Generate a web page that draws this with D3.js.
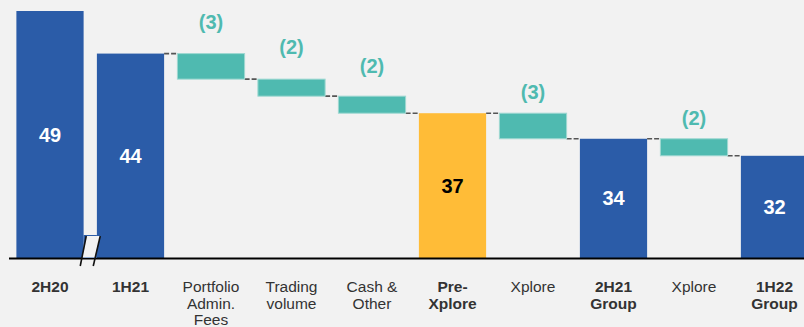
<!DOCTYPE html>
<html>
<head>
<meta charset="utf-8">
<script src="https://cdn.jsdelivr.net/npm/d3@7"></script>
<style>
  html, body { margin: 0; padding: 0; background: #f2f2f2; }
  svg { display: block; }
</style>
</head>
<body>
<svg id="chart" width="804" height="327"></svg>
<script>
// ---- data ----
const categories = ["2H20", "1H21", "Portfolio\nAdmin.\nFees", "Trading\nvolume", "Cash &\nOther", "Pre-\nXplore", "Xplore", "2H21\nGroup", "Xplore", "1H22\nGroup"];
const values = [49, 44, -3, -2, -2, 37, -3, 34, -2, 32];
const kinds = ["total", "total", "delta", "delta", "delta", "subtotal", "delta", "total", "delta", "total"];
const boldCategory = [true, true, false, false, false, true, false, true, false, true];
const valueLabels = ["49", "44", "(3)", "(2)", "(2)", "37", "(3)", "34", "(2)", "32"];
const yDomain = [20, 49];

// ---- styles ----
const W = 804, H = 327;
const colors = { total: "#2b5ca8", subtotal: "#ffbc37", delta: "#4fbab0", bg: "#f2f2f2" };
const deltaLift = { 2: 32, 3: 32, 4: 30, 6: 21, 8: 21 };
const FONT = "'Liberation Sans', Arial, Helvetica, sans-serif";

const svg = d3.select("#chart");
svg.append("rect").attr("width", W).attr("height", H).attr("fill", colors.bg);

const ids = categories.map((c, i) => i);
const x = d3.scaleBand().domain(ids).range([9.75, 814.75]).paddingInner(0.165).paddingOuter(0.0825);
const y = d3.scaleLinear().domain(yDomain).range([258, 11]);
const bw = x.bandwidth();

// compute bar extents
let level = 0;
const bars = values.map((v, i) => {
  let y0, y1;
  if (kinds[i] === "delta") {
    y0 = level; y1 = level + v; level = y1;
  } else {
    y0 = yDomain[0]; y1 = v; level = v;
  }
  return { i, kind: kinds[i], lo: Math.min(y0, y1), hi: Math.max(y0, y1), end: level };
});

// connectors
const conn = svg.append("g");
bars.forEach((b, i) => {
  if (i <= 1) return; // no connector across the break
  const prev = bars[i - 1];
  conn.append("line")
    .attr("x1", x(i - 1) + bw).attr("x2", x(i))
    .attr("y1", y(prev.end)).attr("y2", y(prev.end))
    .attr("stroke", "#555").attr("stroke-width", 1.6)
    .attr("stroke-dasharray", "5,2");
});

// bars
svg.append("g").selectAll("rect").data(bars).join("rect")
  .attr("x", d => x(d.i))
  .attr("width", bw)
  .attr("y", d => y(d.hi))
  .attr("height", d => y(d.lo) - y(d.hi))
  .attr("fill", d => colors[d.kind])
  .attr("stroke", d => d.kind === "delta" ? "#9fd8d2" : "none")
  .attr("stroke-width", 1);

// baseline axis
const axis = d3.axisBottom(x).tickSize(0).tickFormat("");
const ag = svg.append("g").attr("transform", `translate(0,${y(yDomain[0]) + 0.5})`).call(axis);
ag.select(".domain").attr("d", `M9,0H${W}`).attr("stroke", "#000").attr("stroke-width", 2);

// axis break mark between first two bars
(function () {
  const gx0 = x(0) + bw, gx1 = x(1), cx = (gx0 + gx1) / 2;
  const g = svg.append("g");
  g.append("rect").attr("x", gx0).attr("y", 235).attr("width", gx1 - gx0).attr("height", 258 - 235).attr("fill", colors.total);
  const l1 = [[cx - 4, 236], [cx - 10, 266]];
  const l2 = [[cx + 10, 236], [cx + 3, 266]];
  const at = (l, yy) => l[0][0] + (l[1][0] - l[0][0]) * (yy - l[0][1]) / (l[1][1] - l[0][1]);
  g.append("polygon")
    .attr("points", [[at(l1, 236), 236], [at(l2, 236), 236], [at(l2, 257.5), 257.5], [at(l1, 257.5), 257.5]].map(p => p.join(",")).join(" "))
    .attr("fill", colors.bg);
  [l1, l2].forEach(l => {
    g.append("line")
      .attr("x1", l[0][0]).attr("y1", l[0][1]).attr("x2", l[1][0]).attr("y2", l[1][1])
      .attr("stroke", "#111").attr("stroke-width", 1.6);
  });
})();

// value labels
svg.append("g").selectAll("text").data(bars).join("text")
  .attr("x", d => x(d.i) + bw / 2)
  .attr("y", d => d.kind === "delta" ? y(d.hi) - deltaLift[d.i] : (y(d.hi) + y(d.lo)) / 2)
  .attr("text-anchor", "middle")
  .attr("dominant-baseline", "central")
  .attr("font-family", FONT)
  .attr("font-weight", "bold")
  .attr("font-size", 20)
  .attr("fill", d => d.kind === "delta" ? "#4fbab0" : d.kind === "subtotal" ? "#000" : "#fff")
  .text(d => valueLabels[d.i]);

// category labels
const cg = svg.append("g");
categories.forEach((c, i) => {
  const t = cg.append("text")
    .attr("x", x(i) + bw / 2)
    .attr("y", 292)
    .attr("text-anchor", "middle")
    .attr("font-family", FONT)
    .attr("font-size", 15.5)
    .attr("font-weight", boldCategory[i] ? "bold" : "normal")
    .attr("fill", "#333");
  c.split("\n").forEach((line, k) => {
    t.append("tspan").attr("x", x(i) + bw / 2).attr("dy", k === 0 ? 0 : 16.7).text(line);
  });
});
</script>
</body>
</html>
